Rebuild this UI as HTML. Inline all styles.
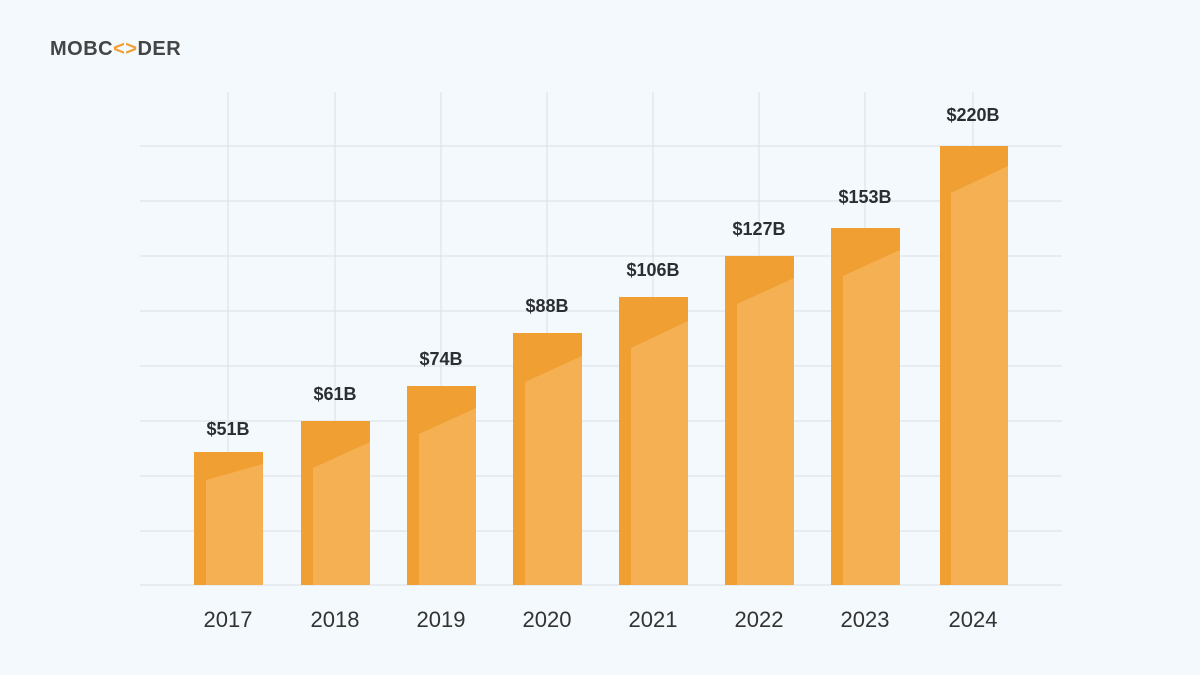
<!DOCTYPE html>
<html><head><meta charset="utf-8"><style>
html,body{margin:0;padding:0;background:#f3f9fc;}
svg{display:block}
</style></head><body>
<svg width="1200" height="675" viewBox="0 0 1200 675" xmlns="http://www.w3.org/2000/svg">
<rect width="1200" height="675" fill="#f3f9fc"/>
<text x="50" y="55" font-family="Liberation Sans, sans-serif" font-weight="bold" font-size="20" fill="#454545" letter-spacing="0.5">MOBC<tspan fill="#f0a030">&lt;&gt;</tspan>DER</text>
<g stroke="#d9dfe4" stroke-width="1">
<line x1="140" y1="146" x2="1062" y2="146"/>
<line x1="140" y1="201" x2="1062" y2="201"/>
<line x1="140" y1="256" x2="1062" y2="256"/>
<line x1="140" y1="311" x2="1062" y2="311"/>
<line x1="140" y1="366" x2="1062" y2="366"/>
<line x1="140" y1="421" x2="1062" y2="421"/>
<line x1="140" y1="476" x2="1062" y2="476"/>
<line x1="140" y1="531" x2="1062" y2="531"/>
<line x1="140" y1="585" x2="1062" y2="585"/>
<line x1="228" y1="92" x2="228" y2="585"/>
<line x1="335" y1="92" x2="335" y2="585"/>
<line x1="441" y1="92" x2="441" y2="585"/>
<line x1="547" y1="92" x2="547" y2="585"/>
<line x1="653" y1="92" x2="653" y2="585"/>
<line x1="759" y1="92" x2="759" y2="585"/>
<line x1="865" y1="92" x2="865" y2="585"/>
<line x1="973" y1="92" x2="973" y2="585"/>
</g>
<g font-family="Liberation Sans, sans-serif" text-anchor="middle">
<g font-weight="bold" font-size="18" fill="#2b2f33">
<text x="228" y="435">$51B</text>
<text x="335" y="400">$61B</text>
<text x="441" y="365">$74B</text>
<text x="547" y="312">$88B</text>
<text x="653" y="276">$106B</text>
<text x="759" y="235">$127B</text>
<text x="865" y="203">$153B</text>
<text x="973" y="121">$220B</text>
</g>
<g font-size="22" fill="#333">
<text x="228" y="627">2017</text>
<text x="335" y="627">2018</text>
<text x="441" y="627">2019</text>
<text x="547" y="627">2020</text>
<text x="653" y="627">2021</text>
<text x="759" y="627">2022</text>
<text x="865" y="627">2023</text>
<text x="973" y="627">2024</text>
</g>
</g>
<g>
<rect x="194" y="452" width="69" height="133" fill="#f0a032"/>
<polygon points="206,480 263,464 263,585 206,585" fill="#f4b052"/>
<rect x="301" y="421" width="69" height="164" fill="#f0a032"/>
<polygon points="313,468 370,442 370,585 313,585" fill="#f4b052"/>
<rect x="407" y="386" width="69" height="199" fill="#f0a032"/>
<polygon points="419,434 476,408 476,585 419,585" fill="#f4b052"/>
<rect x="513" y="333" width="69" height="252" fill="#f0a032"/>
<polygon points="525,382 582,356 582,585 525,585" fill="#f4b052"/>
<rect x="619" y="297" width="69" height="288" fill="#f0a032"/>
<polygon points="631,348 688,321 688,585 631,585" fill="#f4b052"/>
<rect x="725" y="256" width="69" height="329" fill="#f0a032"/>
<polygon points="737,304 794,278 794,585 737,585" fill="#f4b052"/>
<rect x="831" y="228" width="69" height="357" fill="#f0a032"/>
<polygon points="843,276 900,250 900,585 843,585" fill="#f4b052"/>
<rect x="940" y="146" width="68" height="439" fill="#f0a032"/>
<polygon points="951,193 1008,166 1008,585 951,585" fill="#f4b052"/>
</g>
</svg>
</body></html>
